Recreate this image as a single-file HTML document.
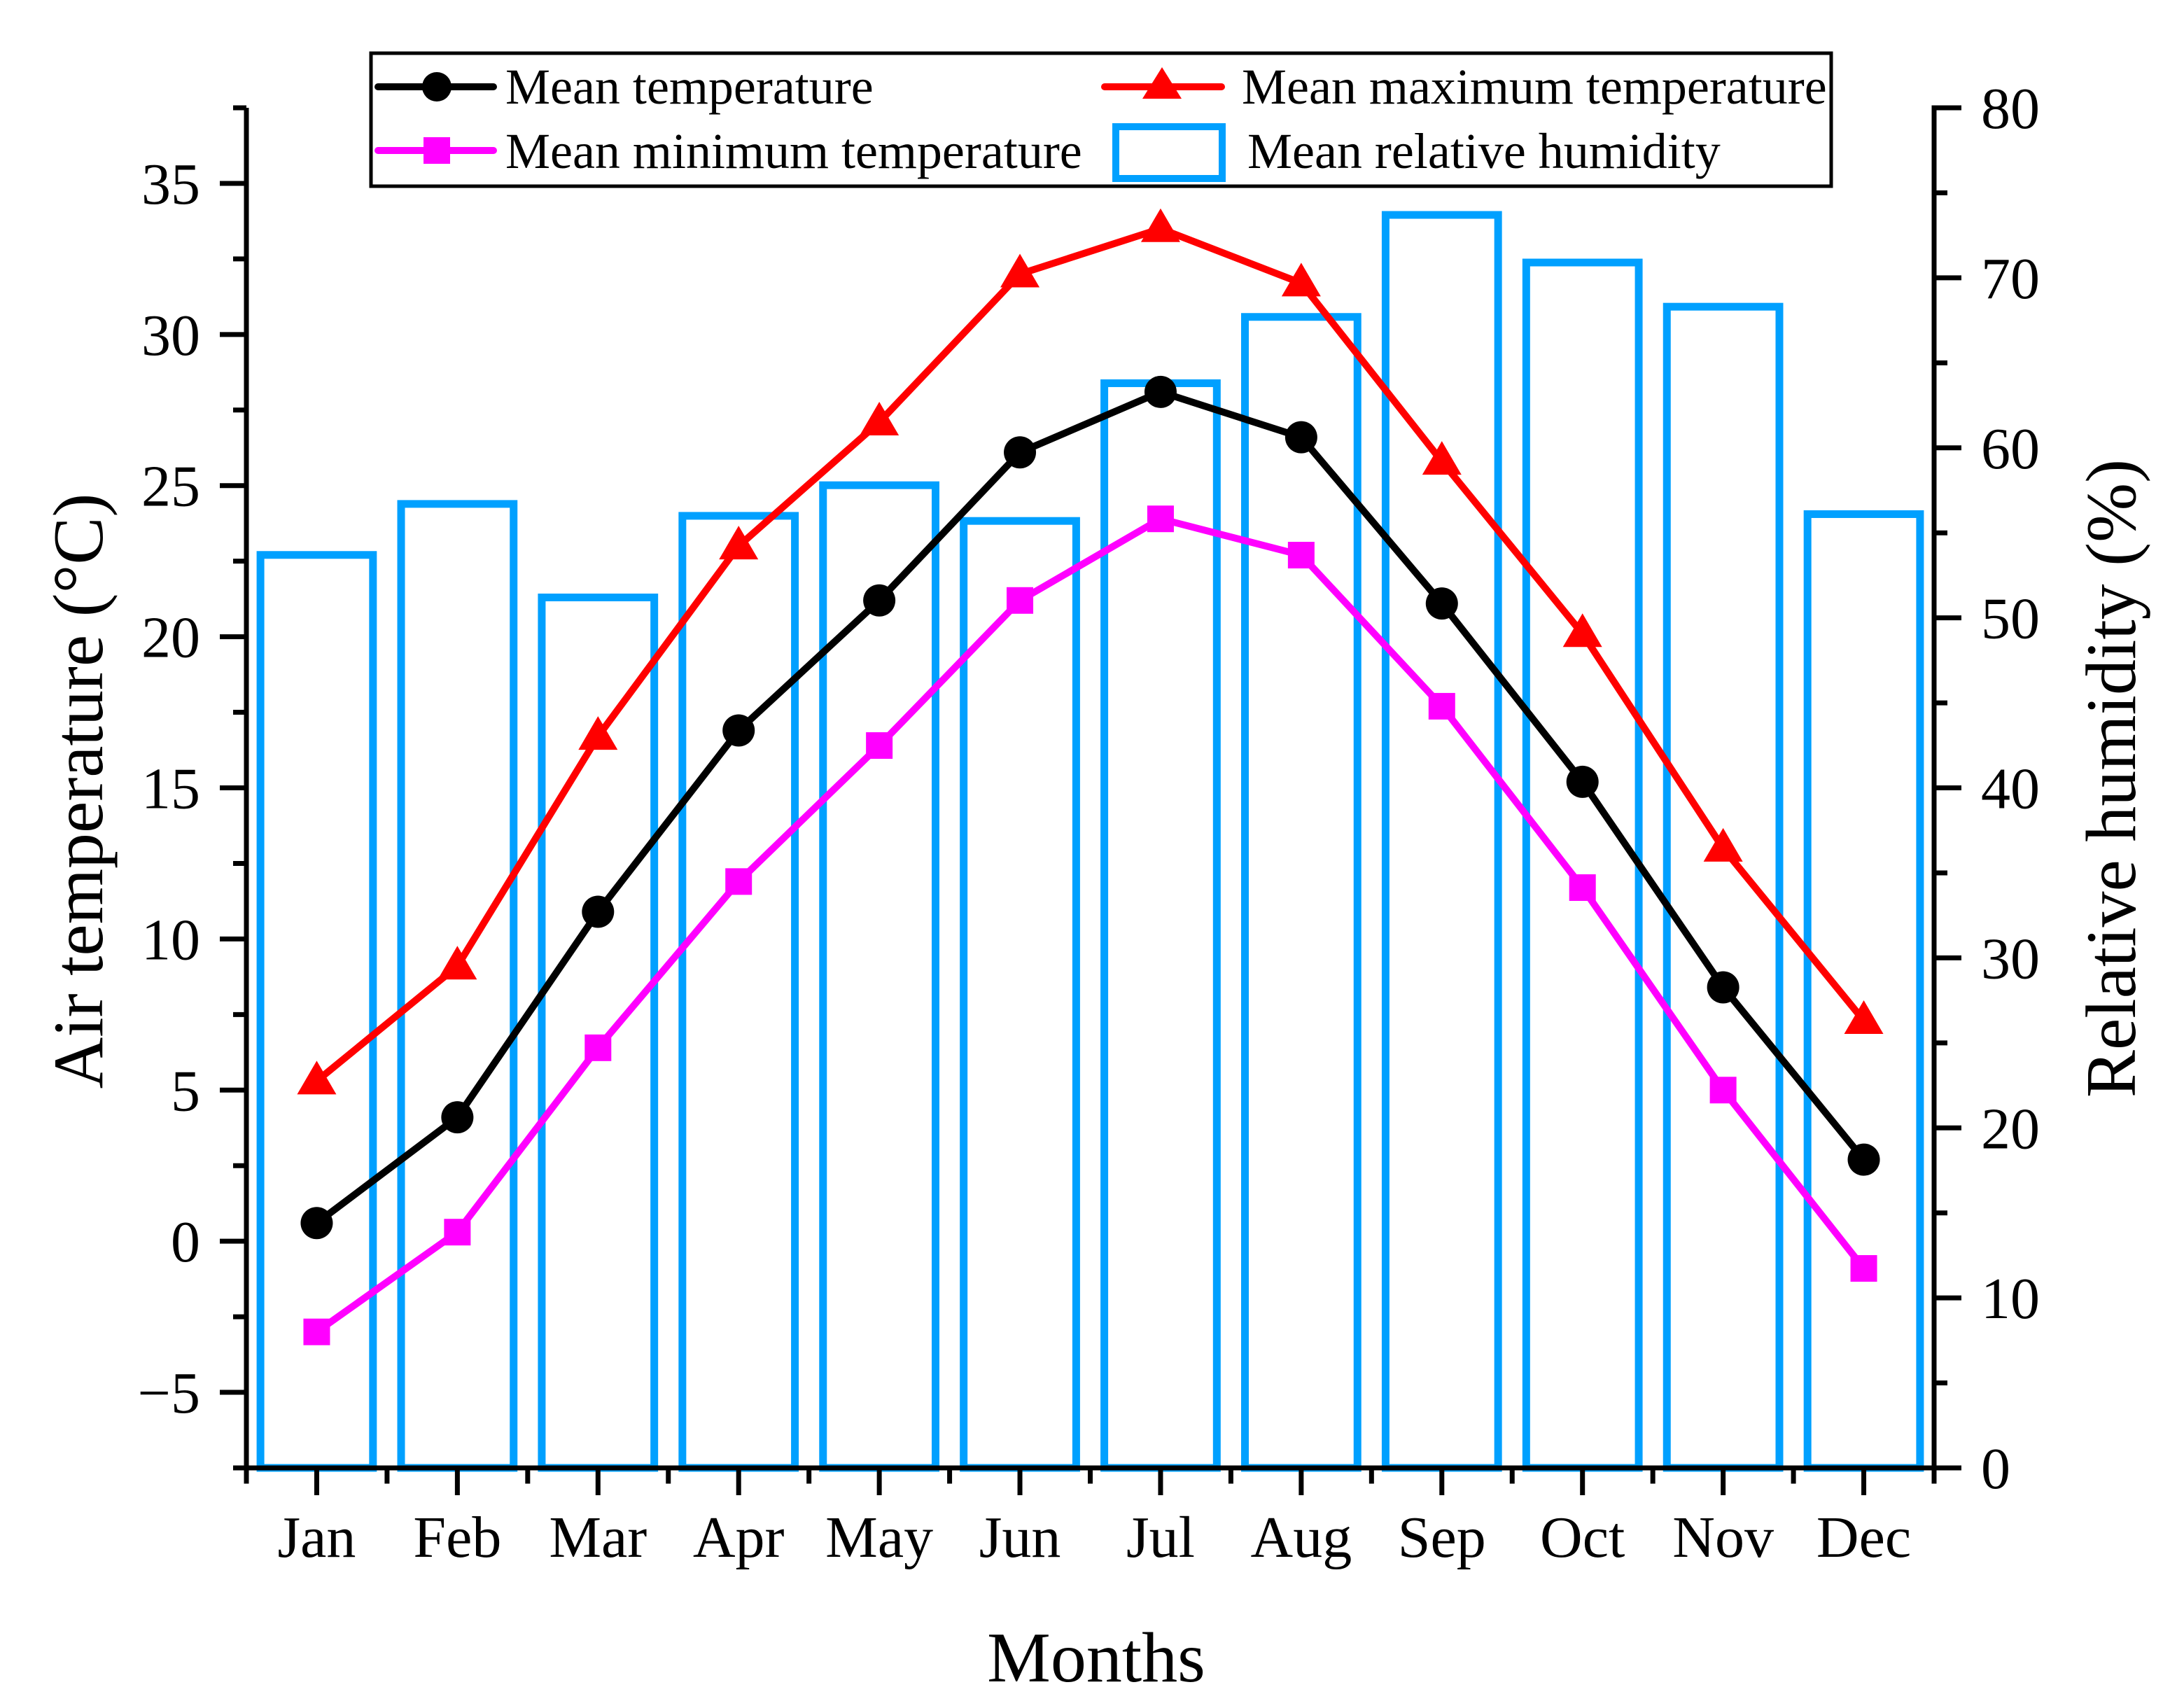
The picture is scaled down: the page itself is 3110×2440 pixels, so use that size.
<!DOCTYPE html>
<html><head><meta charset="utf-8"><style>
html,body{margin:0;padding:0;background:#fff;}
svg{display:block;font-family:"Liberation Serif",serif;}
</style></head><body>
<svg id="chart" width="3110" height="2440" viewBox="0 0 3110 2440" xmlns="http://www.w3.org/2000/svg">
<g id="bars"></g>
<g id="lines"></g>
<g id="axes"></g>
<g id="legend">
  <rect x="530" y="76" width="2086" height="190" fill="#fff" stroke="#000" stroke-width="5"/>
  <g>
    <line x1="540" y1="124" x2="705" y2="124" stroke="#000" stroke-width="10" stroke-linecap="round"/>
    <circle cx="624" cy="124" r="21" fill="#000"/>
    <text x="722" y="148" font-size="72">Mean temperature</text>
  </g>
  <g>
    <line x1="540" y1="215" x2="705" y2="215" stroke="#ff00ff" stroke-width="10" stroke-linecap="round"/>
    <rect x="605" y="196" width="38" height="38" fill="#ff00ff"/>
    <text x="722" y="240" font-size="72">Mean minimum temperature</text>
  </g>
  <g>
    <line x1="1578" y1="124" x2="1745" y2="124" stroke="#ff0000" stroke-width="10" stroke-linecap="round"/>
    <polygon points="1660,96 1688,141 1632,141" fill="#ff0000"/>
    <text x="1774" y="148" font-size="72">Mean maximum temperature</text>
  </g>
  <g>
    <rect x="1594" y="181" width="152" height="74" fill="none" stroke="#00a0ff" stroke-width="10"/>
    <text x="1782" y="240" font-size="72">Mean relative humidity</text>
  </g>
</g>
<text x="1566" y="2402" font-size="102" text-anchor="middle">Months</text>
<text transform="translate(146,1130) rotate(-90)" font-size="102" text-anchor="middle">Air temperature (°C)</text>
<text transform="translate(3050,1112) rotate(-90)" font-size="102" text-anchor="middle">Relative humidity (%)</text>
</svg>
<script>
const months = ["Jan","Feb","Mar","Apr","May","Jun","Jul","Aug","Sep","Oct","Nov","Dec"];
const meanTemp = [0.6,4.1,10.9,16.9,21.2,26.1,28.1,26.6,21.1,15.2,8.4,2.7];
const maxTemp = [5.3,9.1,16.7,23.0,27.1,32.0,33.5,31.7,25.8,20.1,13.0,7.3];
const minTemp = [-3.0,0.3,6.4,11.9,16.4,21.2,23.9,22.7,17.7,11.7,5.0,-0.9];
const humidity = [53.7,56.7,51.2,56.0,57.8,55.7,63.8,67.7,73.7,70.9,68.3,56.1];
const leftTicks = [-5,0,5,10,15,20,25,30,35];
const rightTicks = [0,10,20,30,40,50,60,70,80];

const NS="http://www.w3.org/2000/svg";
const L=352,R=2763,T=154,B=2097;
function x(i){return L+(i+0.5)/12*(R-L);}
function yT(v){return B-(v+7.5)/45*(B-T);}
function yH(v){return B-v/80*(B-T);}
function mk(tag,attrs,parent){const e=document.createElementNS(NS,tag);for(const k in attrs)e.setAttribute(k,attrs[k]);parent.appendChild(e);return e;}

const bars=document.getElementById('bars');
const bw=(R-L)/12*0.8;
humidity.forEach((h,i)=>{
  const r=mk('rect',{x:x(i)-bw/2,y:yH(h),width:bw,height:B-yH(h),fill:'none',stroke:'#00a0ff','stroke-width':11},bars);
  
  
});

const lines=document.getElementById('lines');
function series(vals,color,name,marker){
  const g=mk('g',{},lines);
  
  
  const pl=mk('polyline',{points:vals.map((v,i)=>x(i)+','+yT(v)).join(' '),fill:'none',stroke:color,'stroke-width':10,'stroke-linejoin':'round'},g);
  
  
  vals.forEach((v,i)=>{
    const cx=x(i),cy=yT(v);let m;
    if(marker==='circle')m=mk('circle',{cx:cx,cy:cy,r:23,fill:color},g);
    else if(marker==='square')m=mk('rect',{x:cx-19,y:cy-19,width:38,height:38,fill:color},g);
    else m=mk('polygon',{points:`${cx},${cy-29} ${cx+28},${cy+19} ${cx-28},${cy+19}`,fill:color},g);
    
    
  });
}
series(minTemp,'#ff00ff','mean-min-temp','square');
series(maxTemp,'#ff0000','mean-max-temp','triangle');
series(meanTemp,'#000000','mean-temp','circle');

const ax=document.getElementById('axes');
const sw=7;
mk('line',{x1:L,y1:T,x2:L,y2:B+sw/2,stroke:'#000','stroke-width':sw},ax);
mk('line',{x1:R,y1:T-sw/2,x2:R,y2:B+sw/2,stroke:'#000','stroke-width':sw},ax);
mk('line',{x1:L-sw/2,y1:B,x2:R+sw/2,y2:B,stroke:'#000','stroke-width':sw},ax);
for(let v=-7.5;v<=37.5;v+=2.5){
  const maj=(v%5===0);
  mk('line',{x1:L-(maj?38:19),y1:yT(v),x2:L,y2:yT(v),stroke:'#000','stroke-width':sw},ax);
}
mk('line',{x1:L-19,y1:T,x2:L,y2:T,stroke:'#000','stroke-width':sw},ax);
leftTicks.forEach(v=>{
  const t=mk('text',{x:286,y:yT(v)+29,'font-size':84,'text-anchor':'end'},ax);
  t.textContent=v<0?'\u2212'+Math.abs(v):String(v);
  
  
});
for(let v=0;v<=80;v+=5){
  const maj=(v%10===0);
  mk('line',{x1:R,y1:yH(v),x2:R+(maj?39:19),y2:yH(v),stroke:'#000','stroke-width':sw},ax);
}
rightTicks.forEach(v=>{
  const t=mk('text',{x:2830,y:yH(v)+29,'font-size':84},ax);
  t.textContent=String(v);
  
  
});
for(let i=0;i<=12;i++){
  const xm=L+i/12*(R-L);
  mk('line',{x1:xm,y1:B,x2:xm,y2:B+19+sw/2,stroke:'#000','stroke-width':sw},ax);
}
months.forEach((m,i)=>{
  mk('line',{x1:x(i),y1:B,x2:x(i),y2:B+39,stroke:'#000','stroke-width':sw},ax);
  const t=mk('text',{x:x(i),y:2224,'font-size':84,'text-anchor':'middle'},ax);
  t.textContent=m;
  
  
});
</script>
</body></html>
